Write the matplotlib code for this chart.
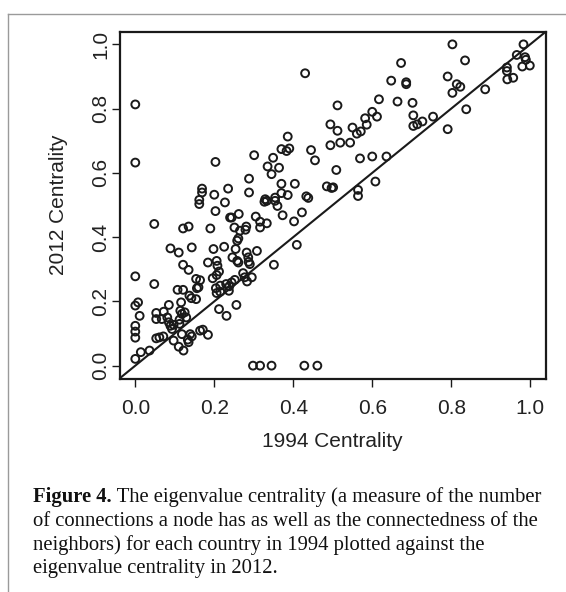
import matplotlib
matplotlib.use("Agg")
import matplotlib.pyplot as plt
from matplotlib.lines import Line2D

# 1994 centrality (x) and 2012 centrality (y)
x1994 = [
    0.803, 0.983, 0.835, 0.966, 0.987, 0.989, 0.999, 0.980, 0.941, 0.941,
    0.942, 0.957, 0.791, 0.814, 0.823, 0.803, 0.886, 0.838, 0.791,
    0.673, 0.648, 0.686, 0.686, 0.617, 0.664, 0.702, 0.512, 0.494, 0.512,
    0.550, 0.561, 0.571, 0.582, 0.586, 0.600, 0.612, 0.704, 0.704, 0.714,
    0.727, 0.754, 0.494, 0.519, 0.544, 0.569, 0.600, 0.636, 0.509, 0.501,
    0.608, 0.564, 0.564, 0.430, 0.000, 0.000,
    0.386, 0.370, 0.383, 0.390, 0.445, 0.455, 0.301, 0.349, 0.335, 0.364,
    0.345, 0.288, 0.235, 0.288, 0.370, 0.404, 0.485, 0.497, 0.329, 0.354,
    0.370, 0.386, 0.433, 0.438,
    0.203, 0.169, 0.169, 0.162, 0.162, 0.200, 0.227, 0.203, 0.240, 0.048,
    0.121, 0.135, 0.190, 0.089, 0.143, 0.198, 0.225,
    0.110, 0.000, 0.048, 0.121, 0.135, 0.184, 0.206, 0.208, 0.212, 0.206,
    0.154, 0.164, 0.160, 0.156, 0.196, 0.107, 0.121, 0.137, 0.142, 0.154,
    0.116, 0.204, 0.215, 0.230, 0.238, 0.206, 0.215, 0.000, 0.007, 0.011,
    0.085, 0.053, 0.053, 0.072, 0.067, 0.081, 0.085, 0.114, 0.118, 0.125,
    0.112, 0.129, 0.089, 0.097, 0.093, 0.112, 0.000, 0.000, 0.000, 0.053,
    0.061, 0.071, 0.118, 0.139, 0.143, 0.097, 0.110, 0.122, 0.133, 0.135,
    0.164, 0.171, 0.184, 0.000, 0.014, 0.036, 0.212, 0.231,
    0.327, 0.333, 0.354, 0.360, 0.244, 0.262, 0.305, 0.316, 0.333, 0.316,
    0.373, 0.422, 0.402, 0.251, 0.265, 0.279, 0.281, 0.261, 0.258, 0.254,
    0.282, 0.308, 0.246, 0.258, 0.261, 0.286, 0.287, 0.290, 0.409, 0.351,
    0.273, 0.277, 0.283, 0.295, 0.237, 0.244, 0.252, 0.256,
    0.298, 0.316, 0.345, 0.428, 0.461,
]
y2012 = [
    1.000, 1.000, 0.950, 0.967, 0.960, 0.952, 0.934, 0.931, 0.928, 0.917,
    0.891, 0.896, 0.900, 0.876, 0.868, 0.849, 0.860, 0.798, 0.736,
    0.942, 0.887, 0.882, 0.876, 0.829, 0.822, 0.818, 0.810, 0.751, 0.731,
    0.741, 0.722, 0.729, 0.770, 0.750, 0.790, 0.775, 0.779, 0.746, 0.751,
    0.760, 0.775, 0.686, 0.694, 0.694, 0.645, 0.651, 0.651, 0.609, 0.555,
    0.573, 0.547, 0.528, 0.910, 0.813, 0.632,
    0.713, 0.674, 0.668, 0.676, 0.671, 0.639, 0.655, 0.647, 0.620, 0.616,
    0.596, 0.582, 0.551, 0.539, 0.566, 0.566, 0.558, 0.553, 0.518, 0.523,
    0.537, 0.531, 0.527, 0.522,
    0.634, 0.551, 0.539, 0.516, 0.503, 0.532, 0.508, 0.481, 0.461, 0.441,
    0.427, 0.433, 0.427, 0.365, 0.368, 0.363, 0.370,
    0.352, 0.278, 0.254, 0.314, 0.298, 0.321, 0.326, 0.311, 0.293, 0.282,
    0.270, 0.266, 0.244, 0.241, 0.272, 0.236, 0.236, 0.218, 0.210, 0.207,
    0.197, 0.241, 0.249, 0.254, 0.247, 0.226, 0.230, 0.187, 0.197, 0.155,
    0.189, 0.164, 0.145, 0.168, 0.145, 0.150, 0.135, 0.171, 0.161, 0.166,
    0.143, 0.150, 0.124, 0.127, 0.114, 0.130, 0.124, 0.106, 0.087, 0.085,
    0.088, 0.091, 0.098, 0.098, 0.091, 0.078, 0.059, 0.047, 0.081, 0.073,
    0.109, 0.112, 0.096, 0.021, 0.042, 0.047, 0.176, 0.155,
    0.510, 0.513, 0.513, 0.497, 0.461, 0.472, 0.464, 0.448, 0.443, 0.430,
    0.468, 0.477, 0.449, 0.430, 0.420, 0.423, 0.433, 0.396, 0.389, 0.363,
    0.352, 0.357, 0.337, 0.326, 0.321, 0.337, 0.323, 0.316, 0.376, 0.314,
    0.288, 0.275, 0.262, 0.275, 0.233, 0.259, 0.267, 0.189,
    0.000, 0.000, 0.000, 0.000, 0.000,
]
tick_vals = [0.0, 0.2, 0.4, 0.6, 0.8, 1.0]
tick_labels = ["0.0", "0.2", "0.4", "0.6", "0.8", "1.0"]
x_label = "1994 Centrality"
y_label = "2012 Centrality"
caption_bold = "Figure 4."
caption_lines = [
    " The eigenvalue centrality (a measure of the number",
    "of connections a node has as well as the connectedness of the",
    "neighbors) for each country in 1994 plotted against the",
    "eigenvalue centrality in 2012.",
]

W, H = 566, 592
fig = plt.figure(figsize=(W / 100, H / 100), dpi=100)
fig.patch.set_facecolor("white")

# axes box in pixels
L, R, T, B = 119.5, 546.0, 31.5, 378.5
ax = fig.add_axes([L / W, 1 - B / H, (R - L) / W, (B - T) / H])
ax.set_xlim(-0.04, 1.04)
ax.set_ylim(-0.04, 1.04)

ink = "#1a1a1a"
ax.scatter(x1994, y2012, s=32, facecolors="none", edgecolors=ink,
           linewidths=1.4, zorder=3)
ax.axline((0, 0), slope=1, color=ink, lw=1.5, zorder=2)

for s in ax.spines.values():
    s.set_linewidth(1.6)
    s.set_color(ink)

axfont = "Liberation Sans"
afs = 15
ax.set_xticks(tick_vals)
ax.set_xticklabels(tick_labels, fontfamily=axfont, fontsize=afs, color="#222")
ax.set_yticks(tick_vals)
ax.set_yticklabels(tick_labels, fontfamily=axfont, fontsize=afs, color="#222",
                   rotation=90, va="center")
ax.tick_params(axis="both", direction="out", length=5.5, width=1.0, color=ink)
ax.tick_params(axis="x", pad=9.5)
ax.tick_params(axis="y", pad=1.0)

ax.set_xlabel(x_label, fontfamily=axfont, fontsize=afs, color="#222", labelpad=10)
ax.set_ylabel(y_label, fontfamily=axfont, fontsize=afs, color="#222", labelpad=17)

# gray frame of the figure panel
fig.add_artist(Line2D([8 / W, 8 / W], [0, 1 - 14 / H], transform=fig.transFigure,
                      color="#9a9a9a", lw=1.0))
fig.add_artist(Line2D([8 / W, 1], [1 - 14 / H, 1 - 14 / H], transform=fig.transFigure,
                      color="#9a9a9a", lw=1.0))

# caption
serif = "Liberation Serif"
cfs = 14.9
x0 = 33 / W
ys = [497, 521, 545, 569]
tb = fig.text(x0, 1 - ys[0] / H, caption_bold, fontfamily=serif, fontsize=cfs,
              fontweight="bold", va="center", ha="left", color="#111")
fig.canvas.draw()
bb = tb.get_window_extent(renderer=fig.canvas.get_renderer())
fig.text(bb.x1 / W, 1 - ys[0] / H, caption_lines[0], fontfamily=serif, fontsize=cfs,
         va="center", ha="left", color="#111")
for line, yy in zip(caption_lines[1:], ys[1:]):
    fig.text(x0, 1 - yy / H, line, fontfamily=serif, fontsize=cfs,
             va="center", ha="left", color="#111")

fig.savefig("out.png", dpi=100, facecolor="white")
